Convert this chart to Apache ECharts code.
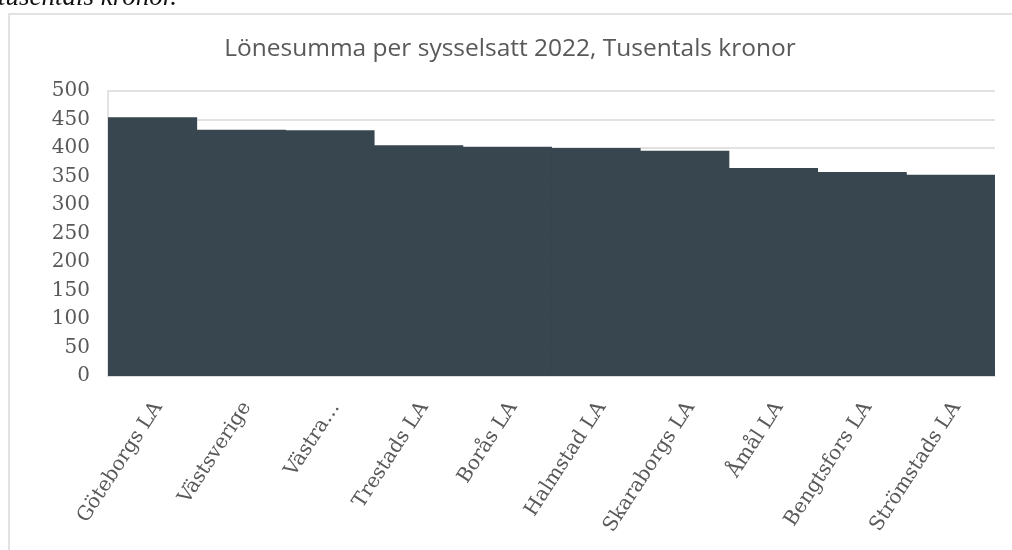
<!DOCTYPE html>
<html>
<head>
<meta charset="utf-8">
<script src="https://cdn.jsdelivr.net/npm/echarts@6/dist/echarts.min.js"></script>
<style>
  html, body { margin: 0; padding: 0; background: #fff; }
  #chart { width: 1012px; height: 550px; }
</style>
</head>
<body>
<div id="chart"></div>
<script>
// categories and values (tusentals kronor)
var categories = ["Göteborgs LA", "Västsverige", "Västra…", "Trestads LA", "Borås LA",
  "Halmstad LA", "Skaraborgs LA", "Åmål LA", "Bengtsfors LA", "Strömstads LA"];
var values = [454, 432, 431, 405, 402, 400, 395, 365, 358, 353];

var myChart = echarts.init(document.getElementById("chart"));
var serif = "DejaVu Serif, Liberation Serif, serif";

var option = {
  animation: false,
  title: {
    text: "Lönesumma per sysselsatt 2022, Tusentals kronor",
    left: 505,
    textAlign: "center",
    top: 32,
    textStyle: {
      fontFamily: "Open Sans, Noto Sans, sans-serif",
      fontWeight: "normal",
      fontSize: 24.5,
      color: "#595959",
    },
  },
  graphic: [
    {
      type: "rect",
      shape: { x: 9, y: 14, width: 1020, height: 600 },
      style: { fill: "none", stroke: "#d9d9d9", lineWidth: 1.5 },
      silent: true,
    },
    {
      type: "text",
      left: -2,
      top: -16,
      style: {
        text: "tusentals kronor.",
        font: "italic 27px Liberation Serif, serif",
        fill: "#111",
      },
      silent: true,
    },
  ],
  grid: { left: 108, right: 17, top: 91, bottom: 174 },
  xAxis: {
    type: "category",
    data: categories,
    axisLine: { lineStyle: { color: "#d9d9d9", width: 1.5 } },
    axisTick: { show: false },
    splitLine: { show: false },
    axisLabel: {
      interval: 0,
      rotate: 57,
      margin: 24,
      verticalAlign: "top",
      lineHeight: 14,
      fontFamily: serif,
      fontSize: 20,
      color: "#595959",
    },
  },
  yAxis: {
    type: "value",
    min: 0,
    max: 500,
    interval: 50,
    axisLine: { show: true, lineStyle: { color: "#d9d9d9", width: 1.5 } },
    axisTick: { show: false },
    splitLine: { lineStyle: { color: "#d9d9d9", width: 1.5 } },
    axisLabel: {
      margin: 18,
      fontFamily: serif,
      fontSize: 20,
      color: "#595959",
    },
  },
  series: [
    {
      type: "bar",
      data: values,
      barCategoryGap: "0%",
      barWidth: "101%",
      itemStyle: { color: "#37464f" },
    },
  ],
};

myChart.setOption(option);
</script>
</body>
</html>
